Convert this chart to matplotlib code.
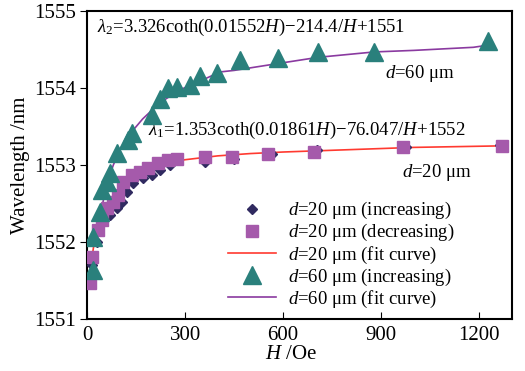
import numpy as np
import matplotlib
matplotlib.use("Agg")
import matplotlib.pyplot as plt

plt.rcParams.update({
    'font.family': 'serif',
    'font.serif': ['Liberation Serif', 'DejaVu Serif'],
    'mathtext.fontset': 'custom',
    'mathtext.rm': 'Liberation Serif',
    'mathtext.it': 'Liberation Serif:italic',
    'mathtext.bf': 'Liberation Serif:bold',
})

# d=20 um, increasing field
h20_inc = [5, 15, 30, 70, 92, 107, 122, 141, 171, 199, 223, 254, 361, 450, 565, 705, 975, 1265]
w20_inc = [1551.5, 1551.7, 1552.0, 1552.35, 1552.44, 1552.52, 1552.65, 1552.77, 1552.83, 1552.87,
           1552.94, 1553.0, 1553.04, 1553.08, 1553.15, 1553.19, 1553.24, 1553.26]
# d=20 um, decreasing field
h20_dec = [3, 9, 15, 34, 46, 61, 80, 95, 110, 138, 162, 187, 217, 248, 275, 361, 443, 554, 695, 967, 1270]
w20_dec = [1551.5, 1551.47, 1551.8, 1552.16, 1552.29, 1552.44, 1552.52, 1552.61, 1552.78, 1552.87,
           1552.91, 1552.96, 1553.03, 1553.06, 1553.08, 1553.1, 1553.1, 1553.14, 1553.17, 1553.23, 1553.25]
# d=20 um fit curve
h20_fit = [15, 20, 30, 50, 75, 100, 150, 200, 250, 300, 400, 500, 600, 800, 1000, 1270]
w20_fit = [1551.8, 1551.95, 1552.1, 1552.33, 1552.55, 1552.7, 1552.88, 1552.97, 1553.03, 1553.07,
           1553.12, 1553.15, 1553.17, 1553.2, 1553.23, 1553.25]
# d=60 um, increasing field
h60_inc = [18, 18, 40, 46, 61, 70, 92, 125, 138, 199, 224, 248, 275, 315, 346, 398, 468, 585, 707, 879, 1227]
w60_inc = [1551.64, 1552.07, 1552.39, 1552.68, 1552.78, 1552.9, 1553.16, 1553.32, 1553.42, 1553.65,
           1553.86, 1554.0, 1554.01, 1554.04, 1554.16, 1554.19, 1554.36, 1554.39, 1554.47, 1554.47, 1554.61]
# d=60 um fit curve
h60_fit = [42, 45, 60, 80, 100, 130, 170, 220, 280, 350, 407, 450, 585, 707, 879, 1000, 1182, 1230]
w60_fit = [1552.3, 1552.45, 1552.75, 1553.0, 1553.2, 1553.4, 1553.6, 1553.8, 1553.97, 1554.1,
           1554.21, 1554.23, 1554.32, 1554.4, 1554.47, 1554.49, 1554.53, 1554.56]

fig = plt.figure(figsize=(5.25, 3.71), dpi=100)
ax = fig.add_axes([0.166, 0.140, 0.809, 0.830])

ax.plot(h20_fit, w20_fit, color='#ff3a30', lw=1.2, label=r'$d$=20 μm (fit curve)', zorder=2)
ax.plot(h60_fit, w60_fit, color='#8a3aa0', lw=1.2, label=r'$d$=60 μm (fit curve)', zorder=2)
ax.plot(h20_inc, w20_inc, 'D', color='#302a60', ms=5, ls='none',
        label=r'$d$=20 μm (increasing)', zorder=3)
ax.plot(h20_dec, w20_dec, 's', color='#a55aab', ms=8, ls='none',
        label=r'$d$=20 μm (decreasing)', zorder=4)
ax.plot(h60_inc, w60_inc, '^', color='#2a807c', ms=13, ls='none',
        label=r'$d$=60 μm (increasing)', zorder=5)

ax.set_xlim(0, 1300)
ax.set_ylim(1551, 1555)
ax.set_xticks([0, 300, 600, 900, 1200])
ax.set_yticks([1551, 1552, 1553, 1554, 1555])
ax.tick_params(axis='x', direction='in', length=5, labelsize=15, pad=5)
ax.tick_params(axis='y', direction='out', length=5, labelsize=15, pad=3)
for s in ax.spines.values():
    s.set_linewidth(1.5)

ax.set_xlabel(r'$H$ /Oe', fontsize=15)
ax.xaxis.set_label_coords(0.48, -0.085, transform=ax.transAxes)
ax.set_ylabel('Wavelength /nm', fontsize=15)
ax.yaxis.set_label_coords(-0.134, 0.5)

ax.text(31, 1554.79, r'$\lambda_2$=3.326coth(0.01552$H$)−214.4/$H$+1551', fontsize=13.5, va='center')
ax.text(912, 1554.19, r'$d$=60 μm', fontsize=13.5, va='center')
ax.text(187, 1553.45, r'$\lambda_1$=1.353coth(0.01861$H$)−76.047/$H$+1552', fontsize=13.5, va='center')
ax.text(964, 1552.9, r'$d$=20 μm', fontsize=13.5, va='center')

handles, labels = ax.get_legend_handles_labels()
order = [2, 3, 0, 4, 1]
ax.legend([handles[i] for i in order], [labels[i] for i in order], loc='lower right',
          bbox_to_anchor=(0.895, -0.012), frameon=False, fontsize=13.5, handlelength=2.6,
          labelspacing=0.05, handletextpad=0.6, borderpad=0.2)

fig.savefig('out.png', dpi=100)
